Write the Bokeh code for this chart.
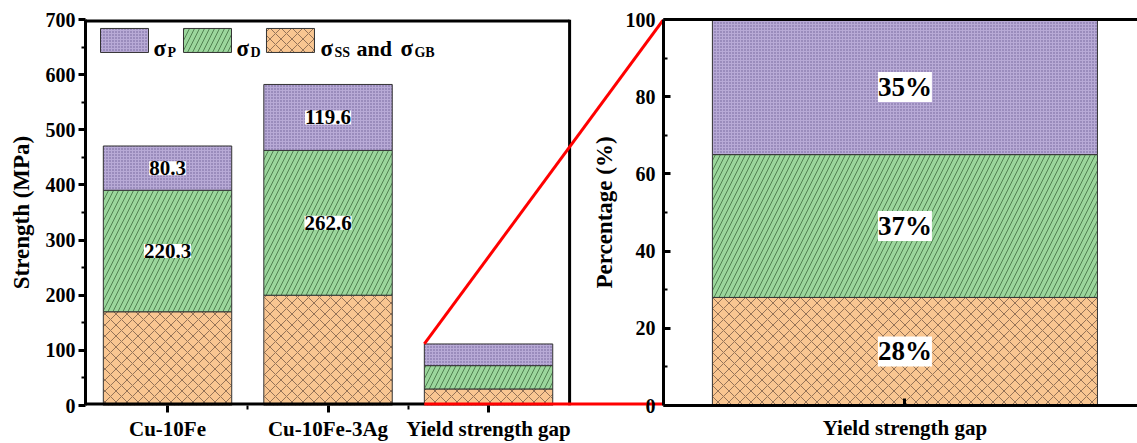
from bokeh.plotting import figure
from bokeh.layouts import row
from bokeh.models import ColumnDataSource, Range1d, FixedTicker, LinearAxis, LabelSet
from bokeh.core.properties import value
from bokeh.embed import file_html
from bokeh.resources import INLINE

# ---- data -------------------------------------------------------------
alloys = ["Cu-10Fe", "Cu-10Fe-3Ag"]
gap_name = "Yield strength gap"
sigma_ss_gb = [170.0, 200.0]      # solid solution + grain boundary (MPa)
sigma_d = [220.3, 262.6]          # dislocation strengthening (MPa)
sigma_p = [80.3, 119.6]           # precipitation strengthening (MPa)
gap_share = [28, 37, 35]          # share of the gap: SS+GB, D, P (%)

# contribution of each mechanism to the strength gap
gap_vals = [sigma_ss_gb[1] - sigma_ss_gb[0],
            sigma_d[1] - sigma_d[0],
            sigma_p[1] - sigma_p[0]]

categories = alloys + [gap_name]
ss_all = sigma_ss_gb + [gap_vals[0]]
d_all = sigma_d + [gap_vals[1]]
p_all = sigma_p + [gap_vals[2]]

FONT = "Liberation Serif"
BAR_W = 0.8

styles = {
    "ss": dict(fill_color="#f9c691", hatch_pattern="x", hatch_color="#7a5d47",
               hatch_scale=11, hatch_weight=0.8),
    "d": dict(fill_color="#9bd69c", hatch_pattern="/", hatch_color="#3d6a3e",
              hatch_scale=10, hatch_weight=0.8),
    "p": dict(fill_color="#b8aad6", hatch_pattern="dot", hatch_color="#6d5d96",
              hatch_scale=3, hatch_weight=1.0),
}
outline = dict(line_color="#333333", line_width=1)


def style_axis(ax, size="20px"):
    ax.axis_line_width = 3
    ax.axis_line_color = "black"
    ax.major_tick_line_width = 3
    ax.minor_tick_line_width = 2
    ax.major_label_text_font = FONT
    ax.major_label_text_font_style = "bold"
    ax.major_label_text_font_size = size
    ax.major_label_text_color = "black"
    ax.axis_label_text_font = FONT
    ax.axis_label_text_font_style = "bold"
    ax.axis_label_text_font_size = "23px"
    ax.axis_label_text_color = "black"


# ---- left panel: absolute strengths -----------------------------------
x_idx = list(range(len(categories)))
x_lo, x_hi = -0.511, 3.09          # frame runs on under the connector
panel_edge = 2.505                 # right border of the bar panel
y_top = 700

p1 = figure(width=663, height=443, output_backend="svg", toolbar_location=None,
            x_range=Range1d(x_lo, x_hi), y_range=Range1d(0, y_top),
            min_border_left=85, min_border_right=0, min_border_top=19,
            min_border_bottom=37)
p1.outline_line_color = None
p1.grid.visible = False
p1.border_fill_color = "white"
p1.background_fill_color = "white"

src = ColumnDataSource(dict(
    x=x_idx,
    ss_top=ss_all,
    d_bot=ss_all,
    d_top=[a + b for a, b in zip(ss_all, d_all)],
    p_bot=[a + b for a, b in zip(ss_all, d_all)],
    p_top=[a + b + c for a, b, c in zip(ss_all, d_all, p_all)],
))
p1.vbar(x="x", width=BAR_W, bottom=0, top="ss_top", source=src, **styles["ss"], **outline)
p1.vbar(x="x", width=BAR_W, bottom="d_bot", top="d_top", source=src, **styles["d"], **outline)
p1.vbar(x="x", width=BAR_W, bottom="p_bot", top="p_top", source=src, **styles["p"], **outline)

# value labels on the two alloys
lab_x, lab_y, lab_t = [], [], []
for i in range(len(alloys)):
    lab_x += [i, i]
    lab_y += [ss_all[i] + d_all[i] / 2, ss_all[i] + d_all[i] + p_all[i] / 2]
    lab_t += [f"{d_all[i]:.1f}", f"{p_all[i]:.1f}"]
p1.add_layout(LabelSet(x="x", y="y", text="t",
                       source=ColumnDataSource(dict(x=lab_x, y=lab_y, t=lab_t)),
                       text_align="center", text_baseline="middle",
                       text_font=value(FONT), text_font_style="bold",
                       text_font_size="21px", text_color="black",
                       background_fill_color="white"))

# panel frame (top and right sides)
p1.line([x_lo, panel_edge], [y_top, y_top], line_color="black", line_width=6)
p1.line([panel_edge, panel_edge], [0, y_top], line_color="black", line_width=3)

# baseline and connector to the zoomed panel
gap_left = x_idx[-1] - BAR_W / 2
gap_total = sum(gap_vals)
p1.line([x_lo, gap_left], [0, 0], line_color="black", line_width=6)
p1.line([gap_left, x_hi], [0, 0], line_color="#ff0000", line_width=6)
p1.line([gap_left, x_hi], [gap_total, y_top], line_color="#ff0000", line_width=3)

# legend
leg_y = 662
leg_x = [-0.268, 0.249, 0.766]
p1.rect(x=[leg_x[0]], y=[leg_y], width=48, height=24, width_units="screen",
        height_units="screen", **styles["p"], **outline)
p1.rect(x=[leg_x[1]], y=[leg_y], width=48, height=24, width_units="screen",
        height_units="screen", **styles["d"], **outline)
p1.rect(x=[leg_x[2]], y=[leg_y], width=48, height=24, width_units="screen",
        height_units="screen", **styles["ss"], **outline)

pieces = [  # (entry, text, x offset px, y offset px, size)
    (0, "σ", 29, 8, "23px"), (0, "P", 43, 12, "14px"),
    (1, "σ", 29, 8, "23px"), (1, "D", 43, 12, "14px"),
    (2, "σ", 30, 8, "23px"), (2, "SS", 44, 12, "14px"),
    (2, "and", 66, 8, "22px"),
    (2, "σ", 110, 8, "23px"), (2, "GB", 124, 12, "14px"),
]
leg_src = ColumnDataSource(dict(
    x=[leg_x[e] for e, *_ in pieces], y=[leg_y] * len(pieces),
    t=[t for _, t, *_ in pieces], dx=[dx for _, _, dx, _, _ in pieces],
    dy=[dy for *_, dy, _ in pieces], fs=[fs for *_, fs in pieces]))
p1.text(x="x", y="y", text="t", x_offset="dx", y_offset="dy", text_font_size="fs",
        source=leg_src, text_font=value(FONT), text_font_style="bold",
        text_color="black", text_baseline="alphabetic", text_align="left")

style_axis(p1.yaxis[0])
p1.yaxis.ticker = FixedTicker(ticks=list(range(0, 701, 100)),
                              minor_ticks=list(range(50, 700, 100)))
p1.yaxis.major_tick_out = 7
p1.yaxis.major_tick_in = 0
p1.yaxis.minor_tick_out = 4
p1.yaxis.minor_tick_in = 0
p1.yaxis.major_label_standoff = 3
p1.yaxis.axis_label = "Strength (MPa)"
p1.yaxis.axis_label_standoff = 9

style_axis(p1.xaxis[0], "21px")
p1.xaxis.axis_line_color = None
p1.xaxis.ticker = FixedTicker(ticks=x_idx, minor_ticks=[0.5, 1.5])
p1.xaxis.major_label_overrides = {i: c for i, c in zip(x_idx, categories)}
p1.xaxis.major_tick_out = 7
p1.xaxis.major_tick_in = 0
p1.xaxis.minor_tick_out = 4
p1.xaxis.minor_tick_in = 0
p1.xaxis.major_label_standoff = 4

# ---- right panel: share of the strength gap ---------------------------
p2 = figure(width=568, height=443, output_backend="svg", toolbar_location=None,
            x_range=Range1d(-0.627, 0.604), y_range=Range1d(0, 100),
            min_border_left=94, min_border_right=0, min_border_top=19,
            min_border_bottom=37)
p2.margin = (0, 0, 0, -94)
p2.outline_line_color = None
p2.grid.visible = False
p2.border_fill_color = None
p2.background_fill_color = "white"

share_bot = [0, gap_share[0], gap_share[0] + gap_share[1]]
share_top = [gap_share[0], gap_share[0] + gap_share[1], sum(gap_share)]
for key, b, t in zip(["ss", "d", "p"], share_bot, share_top):
    p2.vbar(x=[0], width=1.0, bottom=[b], top=[t], **styles[key], **outline)

p2.add_layout(LabelSet(
    x="x", y="y", text="t",
    source=ColumnDataSource(dict(x=[0] * 3,
                                 y=[(b + t) / 2 for b, t in zip(share_bot, share_top)],
                                 t=[f"{s}%" for s in gap_share])),
    text_align="center", text_baseline="middle", text_font=value(FONT),
    text_font_style="bold", text_font_size="27px", text_color="black",
    background_fill_color="white"))

style_axis(p2.yaxis[0])
p2.yaxis.ticker = FixedTicker(ticks=list(range(0, 101, 20)),
                              minor_ticks=list(range(10, 100, 20)))
p2.yaxis.major_tick_in = 7
p2.yaxis.major_tick_out = 0
p2.yaxis.minor_tick_in = 4
p2.yaxis.minor_tick_out = 0
p2.yaxis.major_label_standoff = 8
p2.yaxis.axis_label = "Percentage (%)"
p2.yaxis.axis_label_standoff = 6

style_axis(p2.xaxis[0], "21px")
p2.xaxis.ticker = FixedTicker(ticks=[0], minor_ticks=[])
p2.xaxis.major_label_overrides = {0: gap_name}
p2.xaxis.major_tick_in = 7
p2.xaxis.major_tick_out = 0
p2.xaxis.major_label_standoff = 10

top_axis = LinearAxis(ticker=FixedTicker(ticks=[], minor_ticks=[]),
                      major_label_text_font_size="0px", major_tick_out=0,
                      minor_tick_out=0, axis_line_width=3, axis_line_color="black")
p2.add_layout(top_axis, "above")

layout = row(p1, p2)
layout.spacing = 0

with open("out.html", "w") as f:
    f.write(file_html(layout, INLINE))
